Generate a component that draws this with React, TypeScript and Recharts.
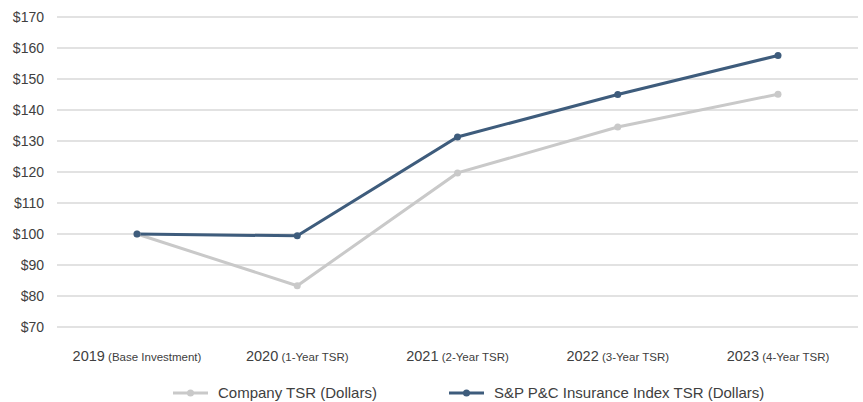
import { CartesianGrid, Line, LineChart, XAxis, YAxis } from 'recharts';

const YEARS = ['2019', '2020', '2021', '2022', '2023'];
const PERIODS = ['(Base Investment)', '(1-Year TSR)', '(2-Year TSR)', '(3-Year TSR)', '(4-Year TSR)'];
const COMPANY_TSR = [100, 83.3, 119.7, 134.5, 145.1];
const INDEX_TSR = [100, 99.4, 131.3, 145.0, 157.6];
const Y_TICKS = [70, 80, 90, 100, 110, 120, 130, 140, 150, 160, 170];

const COMPANY_NAME = 'Company TSR (Dollars)';
const INDEX_NAME = 'S&P P&C Insurance Index TSR (Dollars)';

const GRAY = '#c9c9c9';
const BLUE = '#3e5c7c';
const TEXT = '#404040';
const FONT = '"Liberation Sans", Arial, sans-serif';

const data = YEARS.map((year, i) => ({
  year,
  period: PERIODS[i],
  company: COMPANY_TSR[i],
  index: INDEX_TSR[i],
}));

function YearTick({ x, y, payload, index }: any) {
  return (
    <text x={x} y={y} dy={26} textAnchor="middle" fill={TEXT} fontFamily={FONT}>
      <tspan fontSize={14.5}>{payload.value}</tspan>
      <tspan fontSize={11.5}> {PERIODS[index]}</tspan>
    </text>
  );
}

function LegendItem({ color, label }: { color: string; label: string }) {
  return (
    <div style={{ display: 'flex', alignItems: 'center', gap: 10 }}>
      <svg width={35} height={10}>
        <line x1={0} y1={5} x2={35} y2={5} stroke={color} strokeWidth={3} />
        <circle cx={17.5} cy={5} r={3.5} fill={color} />
      </svg>
      <span style={{ fontSize: 15, color: TEXT, fontFamily: FONT }}>{label}</span>
    </div>
  );
}

export default function App() {
  return (
    <div style={{ position: 'absolute', left: 0, top: 0, width: 863, height: 402, background: '#fff' }}>
      <LineChart width={863} height={402} data={data} margin={{ top: 17, right: 5, left: 0, bottom: 40 }}>
        <CartesianGrid vertical={false} stroke="#d9d9d9" strokeWidth={1.5} />
        <XAxis
          dataKey="year"
          tick={<YearTick />}
          tickLine={false}
          axisLine={false}
          interval={0}
          height={35}
          padding={{ left: 80, right: 80 }}
        />
        <YAxis
          domain={[70, 170]}
          ticks={Y_TICKS}
          tickFormatter={(v: number) => `$${v}`}
          tick={{ fontSize: 14, fill: TEXT, fontFamily: FONT, dx: -5 }}
          tickLine={false}
          axisLine={false}
          width={57}
        />
        <Line
          dataKey="company"
          name={COMPANY_NAME}
          stroke={GRAY}
          strokeWidth={3}
          dot={{ r: 3.5, fill: GRAY, stroke: GRAY, strokeWidth: 0 }}
          isAnimationActive={false}
        />
        <Line
          dataKey="index"
          name={INDEX_NAME}
          stroke={BLUE}
          strokeWidth={3}
          dot={{ r: 3.5, fill: BLUE, stroke: BLUE, strokeWidth: 0 }}
          isAnimationActive={false}
        />
      </LineChart>
      <div style={{ position: 'absolute', left: 173, top: 384, display: 'flex', gap: 72 }}>
        <LegendItem color={GRAY} label={COMPANY_NAME} />
        <LegendItem color={BLUE} label={INDEX_NAME} />
      </div>
    </div>
  );
}
